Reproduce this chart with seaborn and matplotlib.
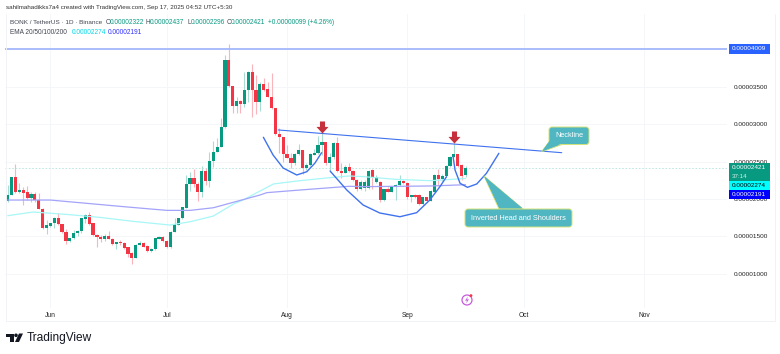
import pandas as pd
import seaborn as sns
import matplotlib.pyplot as plt
from matplotlib.patches import FancyBboxPatch, Polygon, Rectangle, Circle
from matplotlib.path import Path

# daily candles, prices in 1e-8 USDT, first candle is May 21
opens = [1977, 2053, 2298, 2089, 2120, 2089, 2008, 2062, 1986, 1870, 1607, 1643, 1674, 1745, 1665, 1558, 1442, 1473, 1549, 1567,
         1732, 1785, 1674, 1518, 1496, 1465, 1505, 1465, 1398, 1424, 1411, 1353, 1273, 1210, 1384, 1407, 1371, 1300, 1326, 1465,
         1496, 1442, 1353, 1563, 1652, 1741, 1884, 2196, 2276, 2200, 2097, 2374, 2240, 2513, 2633, 2691, 2958, 3859, 3515, 3243,
         3310, 3270, 3457, 3703, 3457, 3301, 3538, 3466, 3368, 3212, 2869, 2833, 2602, 2553, 2477, 2602, 2655, 2410, 2455, 2592,
         2610, 2722, 2767, 2486, 2557, 2744, 2379, 2352, 2423, 2379, 2254, 2129, 2150, 2150, 2388, 2232, 2232, 1987, 2129, 2098,
         2156, 2187, 2245, 2218, 2022, 2053, 2053, 1933, 2022, 1978, 2098, 2321, 2263, 2307, 2441, 2566, 2602, 2455, 2322]
closes = [2053, 2298, 2089, 2120, 2084, 2008, 2062, 1986, 1870, 1607, 1652, 1683, 1745, 1665, 1558, 1442, 1473, 1549, 1571, 1741,
          1785, 1661, 1518, 1496, 1465, 1505, 1465, 1398, 1424, 1411, 1340, 1264, 1210, 1384, 1407, 1362, 1300, 1326, 1473, 1496,
          1442, 1353, 1563, 1661, 1741, 1897, 2196, 2276, 2200, 2097, 2374, 2240, 2513, 2633, 2691, 2958, 3859, 3515, 3243, 3310,
          3270, 3457, 3703, 3457, 3301, 3533, 3457, 3368, 3212, 2869, 2833, 2602, 2553, 2477, 2602, 2655, 2410, 2455, 2602, 2610,
          2722, 2767, 2486, 2557, 2744, 2379, 2352, 2423, 2379, 2254, 2130, 2232, 2232, 2379, 2299, 2299, 1987, 2129, 2098, 2165,
          2187, 2245, 2218, 2022, 2053, 2022, 1933, 2022, 1978, 2107, 2321, 2263, 2305, 2441, 2566, 2602, 2441, 2307, 2421]
highs = [2187, 2298, 2463, 2209, 2164, 2173, 2097, 2097, 2084, 1875, 1719, 1683, 1754, 1808, 1670, 1594, 1480, 1585, 1585, 1745,
         1799, 1830, 1674, 1531, 1518, 1531, 1576, 1473, 1424, 1451, 1429, 1362, 1295, 1393, 1442, 1425, 1380, 1340, 1478, 1510,
         1505, 1451, 1567, 1741, 1741, 1897, 2320, 2365, 2396, 2231, 2441, 2409, 2632, 2775, 2810, 3079, 3925, 4072, 3515, 3360,
         3330, 3694, 3710, 3805, 3658, 3569, 3613, 3569, 3680, 3212, 2945, 2833, 2722, 2610, 2620, 2735, 2655, 2477, 2615, 2664,
         2842, 2887, 2767, 2610, 2767, 2825, 2486, 2455, 2477, 2388, 2263, 2250, 2254, 2388, 2395, 2320, 2240, 2140, 2160, 2175,
         2195, 2320, 2258, 2225, 2060, 2062, 2062, 2030, 2030, 2115, 2340, 2400, 2330, 2450, 2575, 2744, 2605, 2470, 2437]
lows = [1964, 2053, 2075, 2075, 1919, 1986, 1964, 1964, 1861, 1600, 1531, 1620, 1607, 1652, 1549, 1398, 1430, 1460, 1505, 1549,
        1674, 1652, 1510, 1362, 1429, 1442, 1460, 1384, 1326, 1384, 1326, 1220, 1130, 1205, 1384, 1358, 1295, 1295, 1318, 1460,
        1430, 1344, 1349, 1558, 1652, 1730, 1875, 2110, 2164, 1973, 2030, 2187, 2155, 2432, 2633, 2691, 2950, 3500, 3154, 3154,
        3150, 3230, 3300, 3100, 3137, 3181, 3449, 3360, 3199, 2860, 2610, 2499, 2544, 2410, 2455, 2588, 2334, 2388, 2441, 2585,
        2600, 2590, 2455, 2365, 2540, 2365, 2276, 2343, 2365, 2245, 2110, 2120, 2107, 2130, 2130, 2210, 1960, 1975, 2090, 2090,
        1985, 2170, 2205, 2000, 1960, 2010, 1920, 1925, 1970, 1970, 2090, 2180, 2240, 2295, 2430, 2555, 2430, 2250, 2296]

ema20_days = [0, 6.6, 15.2, 23.8, 32.4, 41.8, 47, 53, 58.2, 60.7, 65, 68.5, 75.3, 84, 88, 91.7, 100, 108.9, 118]
ema20_vals = [1777, 1826, 1794, 1754, 1701, 1652, 1696, 1772, 1933, 1987, 2106, 2201, 2245, 2290, 2308, 2299, 2263, 2245, 2274]
ema100_days = [0, 11, 30, 41, 47, 53, 65, 66.8, 75.3, 88, 91.7, 108.9, 118]
ema100_vals = [1986, 1986, 1897, 1848, 1848, 1883, 2053, 2085, 2120, 2170, 2165, 2174, 2191]

# drawn pattern lines
shoulder_l_days = [65.9, 68.4, 71.0, 74.5, 77.1, 79.2, 80.9]
shoulder_l_vals = [2825, 2588, 2414, 2321, 2365, 2481, 2619]
head_days = [83.1, 87.4, 91.6, 95.9, 101.1, 105.4, 108.8, 111.4, 113.1]
head_vals = [2374, 2120, 1920, 1813, 1763, 1817, 1987, 2164, 2298]
shoulder_r_days = [114.8, 115.3, 116.6, 118.5, 120.9, 123.4, 126.6]
shoulder_r_vals = [2566, 2388, 2210, 2156, 2201, 2344, 2611]
neck_days = [69.7, 142.8]
neck_vals = [2923, 2619]
resistance = 4009
last_close = 2421
arrow_days = [81, 115]
arrow_vals = [2963, 2829]

month_days = [11, 41, 72, 103, 133, 164]
month_labels = ['Jun', 'Jul', 'Aug', 'Sep', 'Oct', 'Nov']
price_ticks = [1000, 1500, 2000, 2500, 3000, 3500]

GREEN = '#089981'
RED = '#F23645'
GRID = '#f3f5f9'
TEAL = '#4fb6c2'
BORDER = '#d5e27a'
FONT = ['Liberation Sans', 'DejaVu Sans']


def callout(ov, box, tip, base, text, fs):
    x, y, w, h = box
    ov.add_patch(Polygon([base[0], tip, base[1]], closed=True, fc=TEAL, ec=BORDER, lw=0.7, zorder=5))
    ov.add_patch(FancyBboxPatch((x, y), w, h, boxstyle='round,pad=0,rounding_size=3', fc=TEAL, ec=BORDER, lw=0.7, zorder=6))
    ov.add_patch(Polygon([(base[0][0] + 0.6, base[0][1] - 0.8), tip, (base[1][0] - 0.6, base[1][1] - 0.8)],
                         closed=True, fc=TEAL, ec='none', zorder=7))
    ov.text(x + w / 2, y + h / 2, text, color='white', fontsize=fs, ha='center', va='center', zorder=8, family=FONT)


def tag(ov, y, h, color, text, tcolor, x=728.5, w=41):
    ov.add_patch(Rectangle((x, y), w, h, fc=color, ec='none', zorder=5))
    ov.text(x + w / 2, y + 4.7 if h > 12 else y + h / 2, text, color=tcolor, fontsize=4.6, ha='center', va='center', zorder=6, family=FONT)


def main():
    sns.set_style("white")
    plt.rcParams['font.family'] = FONT

    df = pd.DataFrame({'open': opens, 'high': highs, 'low': lows, 'close': closes})
    df['day'] = df.index
    up = df[df['close'] >= df['open']]
    down = df[df['close'] < df['open']]

    fig = plt.figure(figsize=(7.8, 3.54), dpi=100)
    ax = fig.add_axes([5 / 780, 1 - 308 / 354, 722 / 780, 294 / 354])
    ax.set_xlim(-0.7, 185.4)
    ax.set_ylim(543, 4473)
    for s in ax.spines.values():
        s.set_visible(False)
    ax.set_xticks(month_days)
    ax.set_xticklabels(month_labels, fontsize=4.8, color='#222222')
    ax.set_yticks(price_ticks)
    ax.set_yticklabels([f'{p / 1e8:.8f}' for p in price_ticks], fontsize=4.6, color='#222222')
    ax.yaxis.tick_right()
    ax.tick_params(axis='both', length=0)
    ax.tick_params(axis='x', pad=2.8)
    ax.tick_params(axis='y', pad=4.5)
    ax.grid(True, color=GRID, lw=0.6)
    ax.set_axisbelow(True)

    # candles
    for part, col, wick in [(up, GREEN, '#a9dcd2'), (down, RED, '#f9b5bb')]:
        ax.vlines(part['day'], part['low'], part['high'], color=wick, lw=0.8, zorder=2)
        ax.bar(part['day'], (part['close'] - part['open']).abs(), bottom=part[['open', 'close']].min(axis=1),
               width=0.82, color=col, lw=0, zorder=3)

    sns.lineplot(x=ema20_days, y=ema20_vals, color='#a8f6f6', lw=0.9, ax=ax, zorder=4)
    sns.lineplot(x=ema100_days, y=ema100_vals, color='#a3a3fa', lw=0.9, ax=ax, zorder=4)

    ax.axhline(resistance, color='#a3b8fb', lw=1.3, zorder=4)
    ax.axhline(last_close, color='#b5e3da', lw=0.6, ls=(0, (2, 2)), zorder=1)

    line_col = '#3f72ee'
    sns.lineplot(x=neck_days, y=neck_vals, color=line_col, lw=0.8, ax=ax, zorder=5)
    for xs, ys in [(shoulder_l_days, shoulder_l_vals), (head_days, head_vals), (shoulder_r_days, shoulder_r_vals)]:
        sns.lineplot(x=xs, y=ys, color=line_col, lw=1.0, ax=ax, zorder=5)

    down_arrow = Path([(-0.42, 1), (0.42, 1), (0.42, 0.1), (1, 0.1), (0, -1), (-1, 0.1), (-0.42, 0.1), (-0.42, 1)], closed=True)
    ax.scatter(arrow_days, arrow_vals, marker=down_arrow, s=75, color='#c5303c', lw=0, zorder=6)

    # overlay in pixels for the frame, tags, callouts and branding
    ov = fig.add_axes([0, 0, 1, 1], facecolor='none')
    ov.set_xlim(0, 780)
    ov.set_ylim(354, 0)
    ov.axis('off')

    ov.plot([5.5, 5.5, 775, 775], [14, 321, 321, 14], color='#f0f2f6', lw=0.7)

    ov.text(6, 8, 'sahilmahadikks7a4 created with TradingView.com, Sep 17, 2025 04:52 UTC+5:30', fontsize=4.5, color='#333333', va='center')
    ov.text(10, 23, 'BONK / TetherUS · 1D · Binance', fontsize=4.6, color='#434651', va='center')
    for x, k, v in [(105.5, 'O', '0.00002322'), (146, 'H', '0.00002437'), (187, 'L', '0.00002296'), (227, 'C', '0.00002421')]:
        ov.text(x, 23, k, fontsize=4.7, color='#434651', va='center')
        ov.text(x + 4.2, 23, v, fontsize=4.7, color=GREEN, va='center')
    ov.text(268, 23, '+0.00000099 (+4.26%)', fontsize=4.7, color=GREEN, va='center')
    ov.text(10, 32, 'EMA 20/50/100/200', fontsize=4.7, color='#434651', va='center')
    ov.text(71.5, 32, '0.00002274', fontsize=4.7, color='#00d8e8', va='center')
    ov.text(108, 32, '0.00002191', fontsize=4.7, color='#3030ff', va='center')

    tag(ov, 44, 10, '#2962ff', '0.00004009', 'white')
    tag(ov, 163, 18, GREEN, '0.00002421', 'white')
    ov.text(740, 176, '37:14', fontsize=4.4, color='#d5efe9', ha='center', va='center', zorder=6)
    tag(ov, 181, 8.5, '#00ffff', '0.00002274', 'black')
    tag(ov, 189.5, 9, '#0000ff', '0.00002191', 'white')

    callout(ov, (549, 127, 40, 17.5), (541.7, 151.7), [(549.5, 141), (562, 144.5)], 'Neckline', 5.3)
    callout(ov, (465, 209, 107, 18), (484, 176), [(499, 209), (523, 209)], 'Inverted Head and Shoulders', 5.3)

    # lightning mark near the last candle
    ov.add_patch(Circle((467, 300), 5, fc='white', ec='#c65bdc', lw=0.9, zorder=6))
    ov.add_patch(Polygon([(468, 296.5), (465, 300.6), (467, 300.6), (466, 303.5), (469, 299.4), (467, 299.4)],
                         closed=True, fc='#c65bdc', ec='none', zorder=7))
    ov.add_patch(Circle((471, 295.6), 1.4, fc=RED, ec='none', zorder=8))

    # TradingView logo
    ov.add_patch(Polygon([(6, 333.5), (13.5, 333.5), (13.5, 342), (10, 342), (10, 337), (6, 337)], closed=True, fc='#131722', ec='none'))
    ov.add_patch(Circle((16, 335.3), 1.8, fc='#131722', ec='none'))
    ov.add_patch(Polygon([(19, 333.5), (23, 333.5), (19, 342), (15, 342)], closed=True, fc='#131722', ec='none'))
    ov.text(26.5, 337.8, 'TradingView', fontsize=8.6, color='#131722', va='center', family=['Liberation Sans', 'DejaVu Sans'])

    fig.savefig('out.png', dpi=100)


if __name__ == "__main__":
    main()
